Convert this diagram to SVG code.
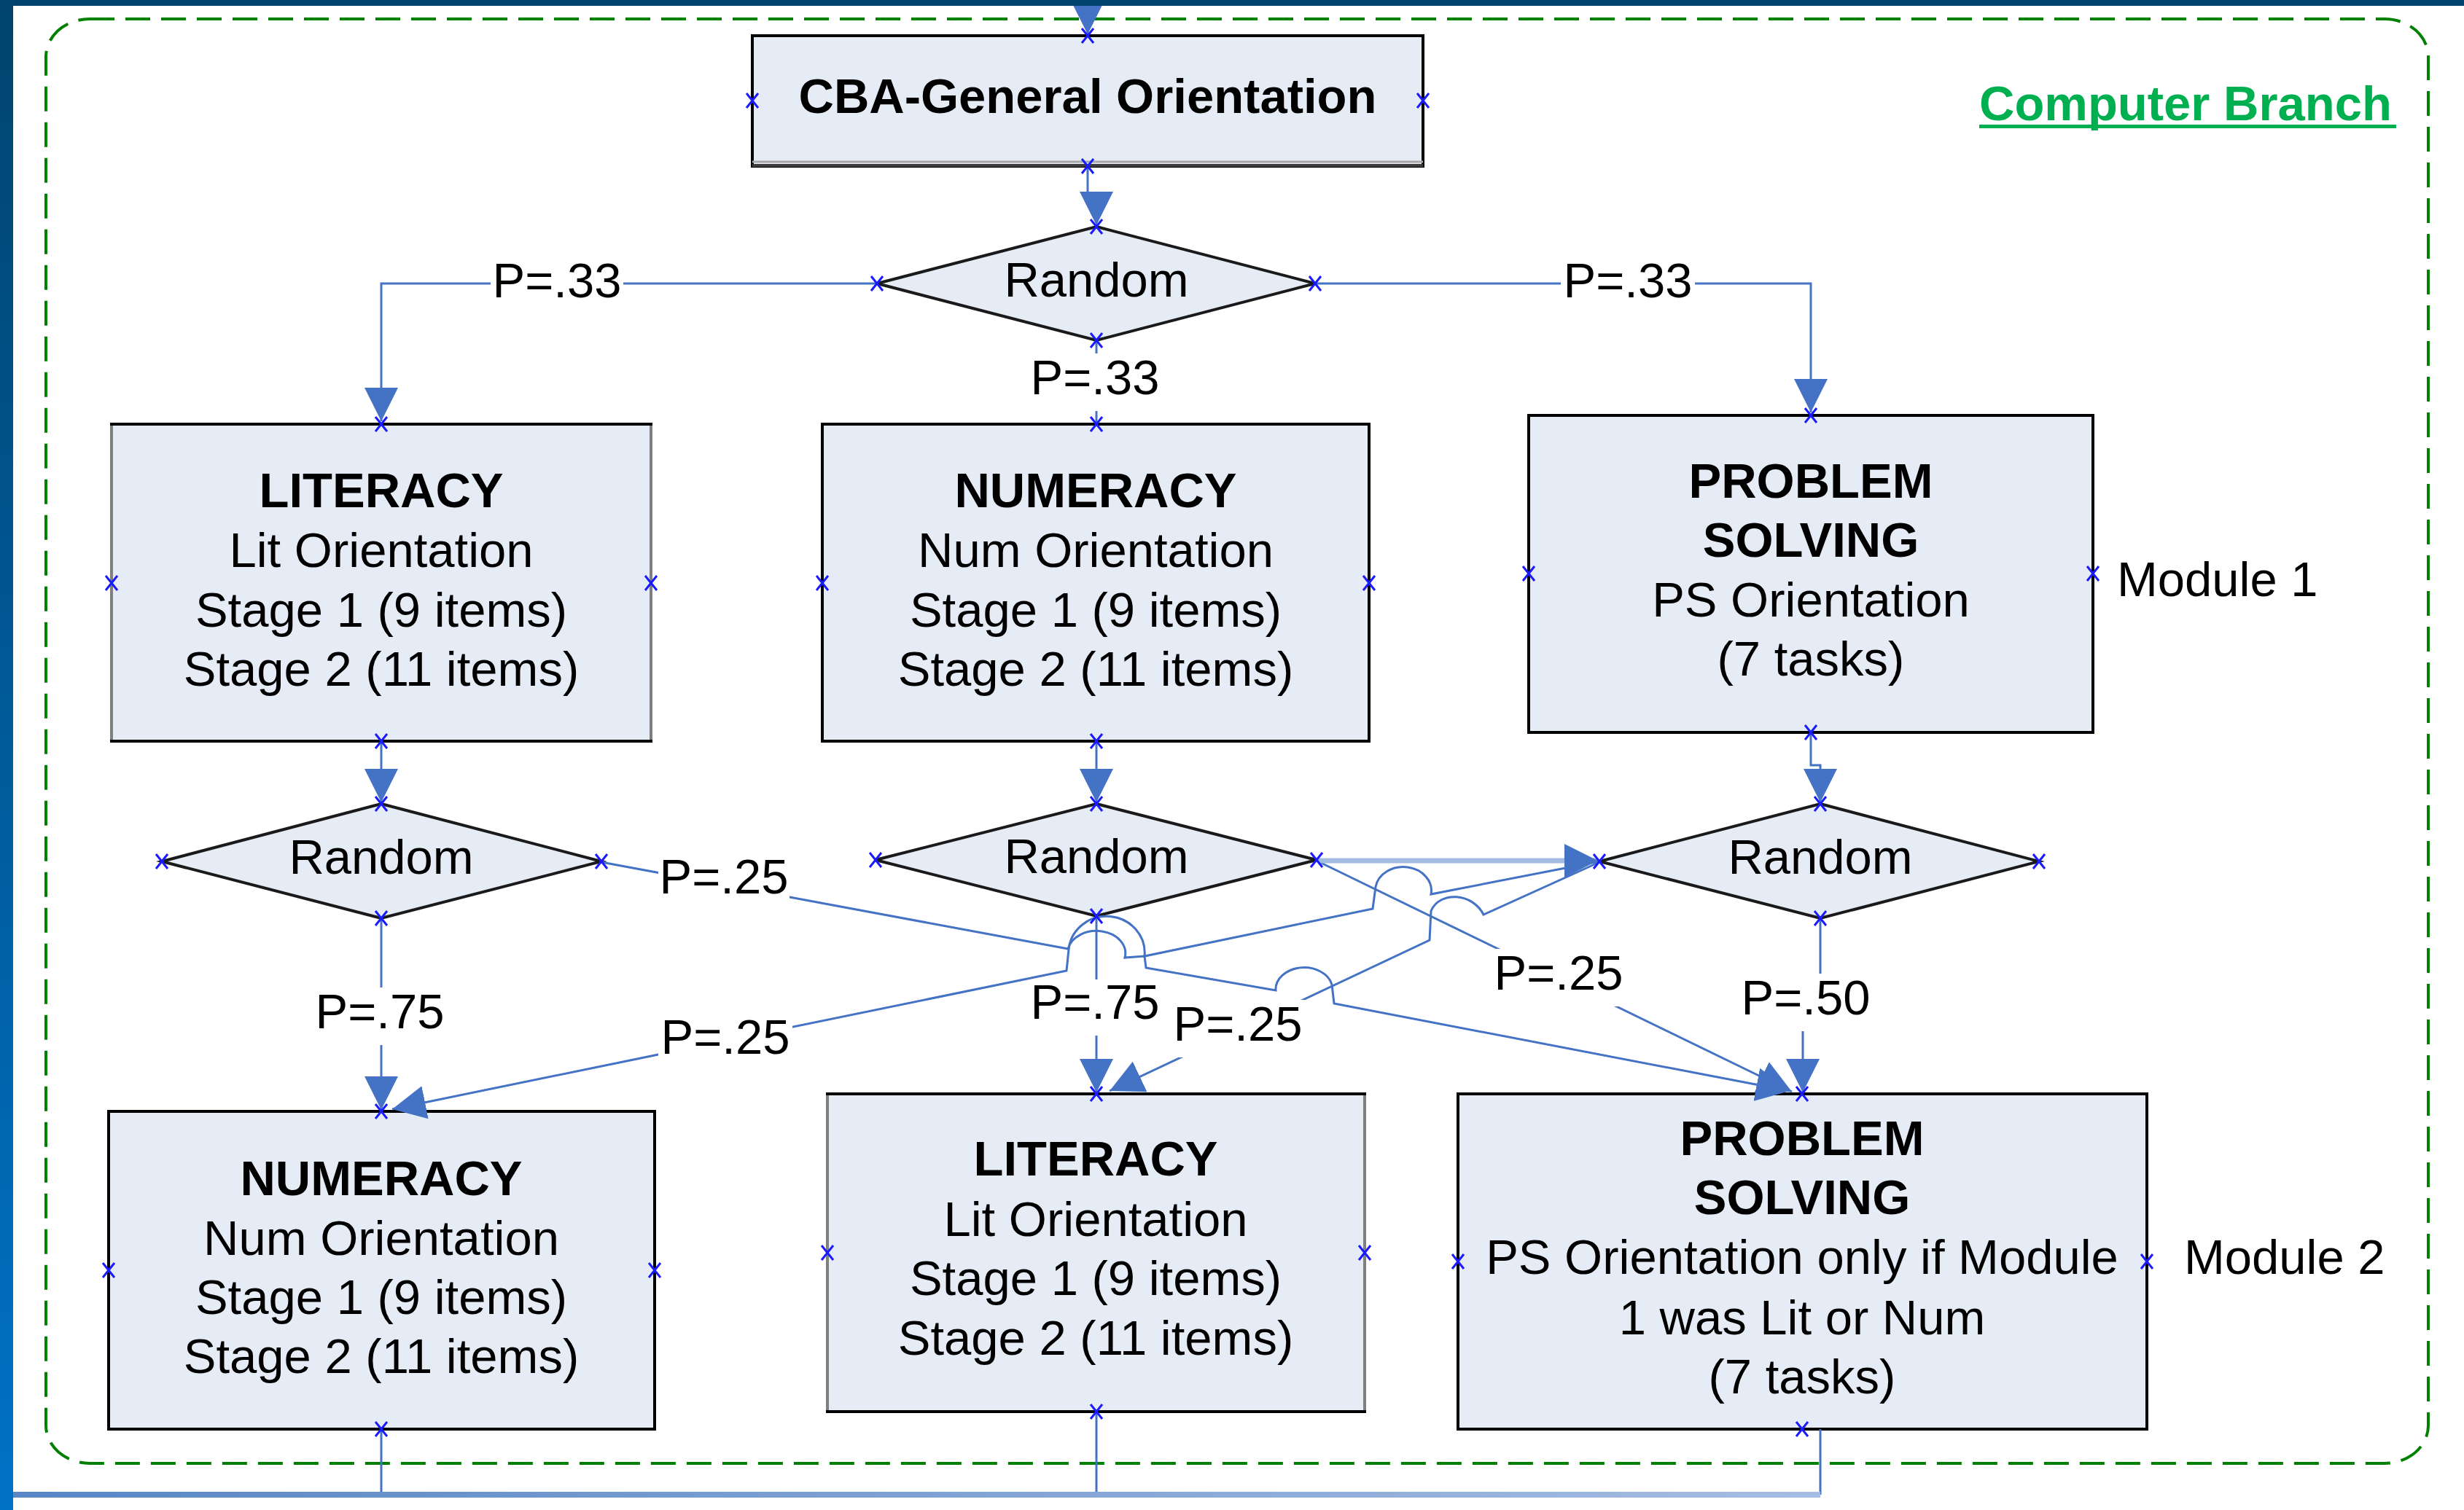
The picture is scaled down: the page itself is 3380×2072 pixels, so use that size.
<svg xmlns="http://www.w3.org/2000/svg" xmlns:xlink="http://www.w3.org/1999/xlink" width="3380" height="2072" viewBox="0 0 3380 2072">
<defs>
  <linearGradient id="sideBar" x1="0" y1="0" x2="0" y2="1">
    <stop offset="0" stop-color="#00446f"/>
    <stop offset="1" stop-color="#0072c6"/>
  </linearGradient>
  <linearGradient id="baseLine" x1="18" y1="0" x2="2497" y2="0" gradientUnits="userSpaceOnUse">
    <stop offset="0" stop-color="#5886c6"/>
    <stop offset="1" stop-color="#a5bde2"/>
  </linearGradient>
  <marker id="arr" markerUnits="userSpaceOnUse" markerWidth="46" markerHeight="46" viewBox="0 0 46 46" refX="46" refY="23" orient="auto">
    <path d="M0,0 L46,23 L0,46 Z" fill="#4472c4"/>
  </marker>
  <g id="cp"><path d="M-8,-10 L8,10 M8,-10 L-8,10" stroke="#1a1aff" stroke-width="3" fill="none"/></g>
</defs>
<style>
  .box{fill:#e6ecf6;stroke:#000;stroke-width:4}
  .dia{fill:#e6ecf6;stroke:#1a1a1a;stroke-width:4;stroke-linejoin:miter}
  .t{font-family:"Liberation Sans",Arial,Helvetica,sans-serif;font-size:67px;fill:#000;text-anchor:middle}
  .s{text-anchor:start}
  .b{font-weight:bold}
  .c{fill:none;stroke:#4472c4;stroke-width:3}
  .lbg{fill:#fff}
</style>

<rect x="0" y="0" width="3380" height="2072" fill="#fff"/>

<g id="computer-branch">
  <rect x="63" y="26" width="3268" height="1982" rx="60" ry="52" fill="none" stroke="#008000" stroke-width="4" stroke-dasharray="34 15"/>
  <text class="t s b" x="2715" y="165" style="fill:#00b050">Computer Branch</text>
  <rect x="2715" y="171" width="572" height="5" fill="#00b050"/>
</g>

<g id="cba-general">
  <rect class="box" x="1032" y="49" width="920" height="179"/>
  <line x1="1032" y1="222" x2="1952" y2="222" stroke="#a8a8a8" stroke-width="3"/>
  <line x1="1032" y1="227" x2="1952" y2="227" stroke="#3c3c3c" stroke-width="4"/>
  <text class="t b" x="1492" y="155">CBA-General Orientation</text>
</g>

<g id="random-1">
  <polygon class="dia" points="1504,311 1804,389 1504,467 1203,389"/>
  <text class="t" x="1504" y="407">Random</text>
</g>

<g id="literacy-1">
  <rect class="box" x="153" y="582" width="740" height="435" style="stroke:#7f7f7f"/>
  <line x1="151" y1="582" x2="895" y2="582" stroke="#000" stroke-width="4"/>
  <line x1="151" y1="1017" x2="895" y2="1017" stroke="#000" stroke-width="4"/>
  <text class="t b" x="523" y="696">LITERACY</text>
  <text class="t" x="523" y="778">Lit Orientation</text>
  <text class="t" x="523" y="860">Stage 1 (9 items)</text>
  <text class="t" x="523" y="941">Stage 2 (11 items)</text>
</g>

<g id="numeracy-1">
  <rect class="box" x="1128" y="582" width="750" height="435"/>
  <text class="t b" x="1503" y="696">NUMERACY</text>
  <text class="t" x="1503" y="778">Num Orientation</text>
  <text class="t" x="1503" y="860">Stage 1 (9 items)</text>
  <text class="t" x="1503" y="941">Stage 2 (11 items)</text>
</g>

<g id="problem-solving-1">
  <rect class="box" x="2097" y="570" width="774" height="435"/>
  <text class="t b" x="2484" y="683">PROBLEM</text>
  <text class="t b" x="2484" y="764">SOLVING</text>
  <text class="t" x="2484" y="846">PS Orientation</text>
  <text class="t" x="2484" y="927">(7 tasks)</text>
</g>

<g id="module-1-label">
  <text class="t s" x="2904" y="818">Module 1</text>
</g>

<g id="random-lit">
  <polygon class="dia" points="523,1103 825,1182 523,1260 222,1182"/>
  <text class="t" x="523" y="1199">Random</text>
</g>

<g id="random-num">
  <polygon class="dia" points="1504,1103 1806,1180 1504,1257 1201,1180"/>
  <text class="t" x="1504" y="1198">Random</text>
</g>

<g id="random-ps">
  <polygon class="dia" points="2497,1103 2797,1182 2497,1260 2194,1182"/>
  <text class="t" x="2497" y="1199">Random</text>
</g>

<g id="numeracy-2">
  <rect class="box" x="149" y="1525" width="749" height="436"/>
  <text class="t b" x="523" y="1640">NUMERACY</text>
  <text class="t" x="523" y="1722">Num Orientation</text>
  <text class="t" x="523" y="1803">Stage 1 (9 items)</text>
  <text class="t" x="523" y="1884">Stage 2 (11 items)</text>
</g>

<g id="literacy-2">
  <rect class="box" x="1135" y="1501" width="737" height="436" style="stroke:#7f7f7f"/>
  <line x1="1133" y1="1501" x2="1874" y2="1501" stroke="#000" stroke-width="4"/>
  <line x1="1133" y1="1937" x2="1874" y2="1937" stroke="#000" stroke-width="4"/>
  <text class="t b" x="1503" y="1613">LITERACY</text>
  <text class="t" x="1503" y="1696">Lit Orientation</text>
  <text class="t" x="1503" y="1777">Stage 1 (9 items)</text>
  <text class="t" x="1503" y="1859">Stage 2 (11 items)</text>
</g>

<g id="problem-solving-2">
  <rect class="box" x="2000" y="1501" width="945" height="460"/>
  <text class="t b" x="2472" y="1585">PROBLEM</text>
  <text class="t b" x="2472" y="1666">SOLVING</text>
  <text class="t" x="2472" y="1748">PS Orientation only if Module</text>
  <text class="t" x="2472" y="1831">1 was Lit or Num</text>
  <text class="t" x="2472" y="1912">(7 tasks)</text>
</g>

<g id="module-2-label">
  <text class="t s" x="2996" y="1748">Module 2</text>
</g>

<g id="connectors">
  <path class="c" d="M1492,-30 V47" marker-end="url(#arr)"/>
  <path class="c" d="M1492,228 V266 H1504 V309" marker-end="url(#arr)"/>
  <path class="c" d="M1203,389 H523 V578" marker-end="url(#arr)"/>
  <path class="c" d="M1504,467 V582"/>
  <path class="c" d="M1804,389 H2484 V566" marker-end="url(#arr)"/>
  <path class="c" d="M523,1017 V1101" marker-end="url(#arr)"/>
  <path class="c" d="M1504,1017 V1101" marker-end="url(#arr)"/>
  <path class="c" d="M2484,1005 V1050 H2497 V1101" marker-end="url(#arr)"/>
  <path class="c" d="M523,1260 V1523" marker-end="url(#arr)"/>
  <path class="c" d="M1504,1257 V1499" marker-end="url(#arr)"/>
  <path class="c" d="M2497,1260 V1375 H2473 V1499" marker-end="url(#arr)"/>
  <path class="c" d="M825,1183 L1465,1302 A39,30 0 0 1 1543,1314 L1570,1312 L1572,1328 L1750,1359 A39,30 0 0 1 1827,1351 L1830,1377 L2455,1497" marker-end="url(#arr)"/>
  <path class="c" d="M1808,1182 L2458,1498" marker-end="url(#arr)"/>
  <path d="M1808,1181 H2192" fill="none" stroke="#a3bbe0" stroke-width="7" marker-end="url(#arr)"/>
  <path class="c" d="M2194,1182 L1963,1227 A38,32 0 0 0 1887,1217 L1883,1247 L1570,1312 A52,50 0 0 0 1466,1303 L1463,1332 L538,1522" marker-end="url(#arr)"/>
  <path class="c" d="M2194,1183 L2035,1255 C2020,1225 1975,1222 1963,1250 L1961,1290 L1522,1497" marker-end="url(#arr)"/>
  <path class="c" d="M523,1961 V2051 M1504,1937 V2051 M2497,1961 V2051"/>
  <path d="M18,2051 H2497" fill="none" stroke="url(#baseLine)" stroke-width="8"/>

  <g id="labels">
    <rect class="lbg" x="673" y="352" width="182" height="79"/>
    <text class="t" x="764" y="408">P=.33</text>
    <rect class="lbg" x="2141" y="352" width="184" height="79"/>
    <text class="t" x="2233" y="408">P=.33</text>
    <rect class="lbg" x="1410" y="485" width="184" height="79"/>
    <text class="t" x="1502" y="541">P=.33</text>
    <rect class="lbg" x="903" y="1170" width="180" height="79"/>
    <text class="t" x="993" y="1226">P=.25</text>
    <rect class="lbg" x="431" y="1355" width="181" height="79"/>
    <text class="t" x="521" y="1411">P=.75</text>
    <rect class="lbg" x="903" y="1390" width="184" height="79"/>
    <text class="t" x="995" y="1446">P=.25</text>
    <rect class="lbg" x="1411" y="1344" width="182" height="77"/>
    <text class="t" x="1502" y="1398">P=.75</text>
    <rect class="lbg" x="1606" y="1372" width="184" height="79"/>
    <text class="t" x="1698" y="1428">P=.25</text>
    <rect class="lbg" x="2048" y="1302" width="181" height="79"/>
    <text class="t" x="2138" y="1358">P=.25</text>
    <rect class="lbg" x="2388" y="1336" width="179" height="79"/>
    <text class="t" x="2477" y="1392">P=.50</text>
  </g>
</g>

<g id="connection-points">
  <use xlink:href="#cp" x="1032" y="138"/><use xlink:href="#cp" x="1952" y="138"/><use xlink:href="#cp" x="1492" y="49"/><use xlink:href="#cp" x="1492" y="228"/>
  <use xlink:href="#cp" x="1504" y="311"/><use xlink:href="#cp" x="1203" y="389"/><use xlink:href="#cp" x="1804" y="389"/><use xlink:href="#cp" x="1504" y="467"/>
  <use xlink:href="#cp" x="523" y="582"/><use xlink:href="#cp" x="153" y="800"/><use xlink:href="#cp" x="893" y="800"/><use xlink:href="#cp" x="523" y="1017"/>
  <use xlink:href="#cp" x="1504" y="582"/><use xlink:href="#cp" x="1128" y="800"/><use xlink:href="#cp" x="1878" y="800"/><use xlink:href="#cp" x="1504" y="1017"/>
  <use xlink:href="#cp" x="2484" y="570"/><use xlink:href="#cp" x="2097" y="787"/><use xlink:href="#cp" x="2871" y="787"/><use xlink:href="#cp" x="2484" y="1005"/>
  <use xlink:href="#cp" x="523" y="1103"/><use xlink:href="#cp" x="222" y="1182"/><use xlink:href="#cp" x="825" y="1182"/><use xlink:href="#cp" x="523" y="1260"/>
  <use xlink:href="#cp" x="1504" y="1103"/><use xlink:href="#cp" x="1201" y="1180"/><use xlink:href="#cp" x="1806" y="1180"/><use xlink:href="#cp" x="1504" y="1257"/>
  <use xlink:href="#cp" x="2497" y="1103"/><use xlink:href="#cp" x="2194" y="1182"/><use xlink:href="#cp" x="2797" y="1182"/><use xlink:href="#cp" x="2497" y="1260"/>
  <use xlink:href="#cp" x="523" y="1525"/><use xlink:href="#cp" x="149" y="1743"/><use xlink:href="#cp" x="898" y="1743"/><use xlink:href="#cp" x="523" y="1961"/>
  <use xlink:href="#cp" x="1504" y="1501"/><use xlink:href="#cp" x="1135" y="1719"/><use xlink:href="#cp" x="1872" y="1719"/><use xlink:href="#cp" x="1504" y="1937"/>
  <use xlink:href="#cp" x="2472" y="1501"/><use xlink:href="#cp" x="2000" y="1731"/><use xlink:href="#cp" x="2945" y="1731"/><use xlink:href="#cp" x="2472" y="1961"/>
</g>

<rect x="0" y="0" width="3380" height="8" fill="#00426e"/>
<rect x="0" y="0" width="18" height="2072" fill="url(#sideBar)"/>
</svg>
